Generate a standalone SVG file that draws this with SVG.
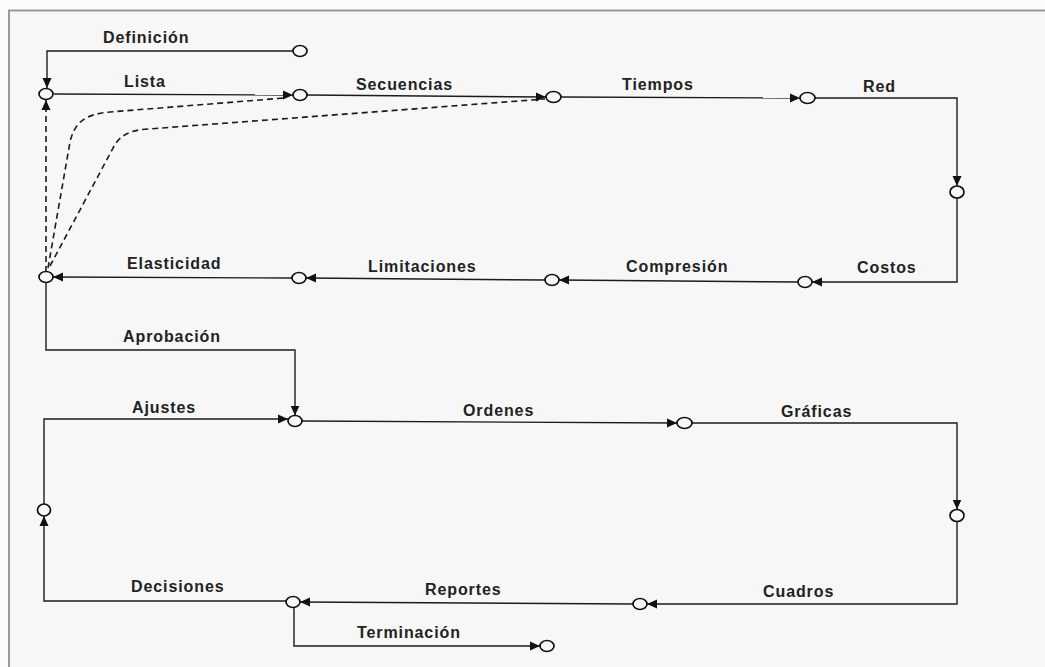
<svg xmlns="http://www.w3.org/2000/svg" width="1045" height="667" viewBox="0 0 1045 667">
  <style>
    .line { fill: none; stroke: #1c1c1c; stroke-width: 1.4; }
    .dash { fill: none; stroke: #1c1c1c; stroke-width: 1.6; stroke-dasharray: 6 4; }
    .node ellipse { fill: #f7f7f7; stroke: #111; stroke-width: 1.7; }
    .lbl { font-family: "Liberation Sans", Arial, sans-serif; font-size: 16px; font-weight: bold; letter-spacing: 0.9px; fill: #222; }
  </style>
  <defs>
    <marker id="arr" markerUnits="userSpaceOnUse" markerWidth="12" markerHeight="12" refX="10" refY="6" orient="auto">
      <path d="M0,1.5 L10,6 L0,10.5 Z" fill="#111"/>
    </marker>
  </defs>

  <!-- page and frame -->
  <rect x="0" y="0" width="1045" height="667" fill="#fbfbfb"/>
  <rect x="9" y="10" width="1036" height="657" fill="#f7f7f7"/>
  <path d="M9,667 V10.5 H1045" fill="none" stroke="#999" stroke-width="2"/>

  <!-- connectors -->
  <g id="connectors">
    <path class="line" d="M293,51 H47 V88" marker-end="url(#arr)"/>
    <path class="line" d="M54,94 L293,95" marker-end="url(#arr)"/>
    <path class="line" d="M307,95 L546,97" marker-end="url(#arr)"/>
    <path class="line" d="M561,97 L800,98" marker-end="url(#arr)"/>
    <path class="line" d="M815,98 H957 V186" marker-end="url(#arr)"/>
    <path class="line" d="M957,198 V282 H812" marker-end="url(#arr)"/>
    <path class="line" d="M798,282 L559,280" marker-end="url(#arr)"/>
    <path class="line" d="M545,280 L306,278" marker-end="url(#arr)"/>
    <path class="line" d="M292,278 L53,277" marker-end="url(#arr)"/>
    <path class="line" d="M46,283 V350 H295 V415.5" marker-end="url(#arr)"/>
    <path class="line" d="M44,504 V419 H288" marker-end="url(#arr)"/>
    <path class="line" d="M302,421 L677,423" marker-end="url(#arr)"/>
    <path class="line" d="M692,423 H957 V509.5" marker-end="url(#arr)"/>
    <path class="line" d="M957,521 V604 H647" marker-end="url(#arr)"/>
    <path class="line" d="M633,604 L300,602" marker-end="url(#arr)"/>
    <path class="line" d="M286,601 H44 V516" marker-end="url(#arr)"/>
    <path class="line" d="M294,607.5 V646 H540" marker-end="url(#arr)"/>
    <!-- dashed feedback paths from Elasticidad -->
    <path class="dash" d="M46,272 V100" marker-end="url(#arr)"/>
    <path class="dash" d="M48,268 L70,142 C75,120 88,114 110,112 L284,98"/>
    <path class="dash" d="M50,266 L112,150 C119,135 130,130 148,129 L545,99"/>
  </g>

  <!-- nodes -->
  <g id="n-def" class="node"><ellipse cx="300" cy="51" rx="7" ry="5.5"/></g>
  <g id="n-a" class="node"><ellipse cx="46" cy="94" rx="7" ry="5.5"/></g>
  <g id="n-b" class="node"><ellipse cx="300" cy="95" rx="7" ry="5.5"/></g>
  <g id="n-c" class="node"><ellipse cx="553.5" cy="97" rx="7.5" ry="5.5"/></g>
  <g id="n-d" class="node"><ellipse cx="807.5" cy="98" rx="7.5" ry="5.5"/></g>
  <g id="n-e" class="node"><ellipse cx="957" cy="192" rx="7" ry="6"/></g>
  <g id="n-f" class="node"><ellipse cx="805" cy="282" rx="7" ry="5.5"/></g>
  <g id="n-g" class="node"><ellipse cx="552" cy="280" rx="7" ry="5.5"/></g>
  <g id="n-h" class="node"><ellipse cx="299" cy="278" rx="7" ry="5.5"/></g>
  <g id="n-i" class="node"><ellipse cx="46" cy="277" rx="7" ry="5.5"/></g>
  <g id="n-j" class="node"><ellipse cx="295" cy="421" rx="7" ry="5.5"/></g>
  <g id="n-k" class="node"><ellipse cx="684.5" cy="423" rx="7.5" ry="5.5"/></g>
  <g id="n-l" class="node"><ellipse cx="957" cy="515.5" rx="7" ry="6"/></g>
  <g id="n-m" class="node"><ellipse cx="640" cy="604" rx="7" ry="5.5"/></g>
  <g id="n-n" class="node"><ellipse cx="293" cy="602" rx="7" ry="5.5"/></g>
  <g id="n-o" class="node"><ellipse cx="44" cy="510" rx="6.5" ry="6"/></g>
  <g id="n-p" class="node"><ellipse cx="547" cy="646" rx="7" ry="5.5"/></g>

  <!-- activity labels -->
  <g id="labels">
    <text class="lbl" x="103" y="43">Definición</text>
    <text class="lbl" x="124" y="87">Lista</text>
    <text class="lbl" x="356" y="90">Secuencias</text>
    <text class="lbl" x="622" y="90">Tiempos</text>
    <text class="lbl" x="863" y="92">Red</text>
    <text class="lbl" x="857" y="273">Costos</text>
    <text class="lbl" x="626" y="272">Compresión</text>
    <text class="lbl" x="368" y="272">Limitaciones</text>
    <text class="lbl" x="127" y="269">Elasticidad</text>
    <text class="lbl" x="123" y="342">Aprobación</text>
    <text class="lbl" x="132" y="413">Ajustes</text>
    <text class="lbl" x="463" y="416">Ordenes</text>
    <text class="lbl" x="781" y="417">Gráficas</text>
    <text class="lbl" x="763" y="597">Cuadros</text>
    <text class="lbl" x="425" y="595">Reportes</text>
    <text class="lbl" x="131" y="592">Decisiones</text>
    <text class="lbl" x="357" y="638">Terminación</text>
  </g>
</svg>
